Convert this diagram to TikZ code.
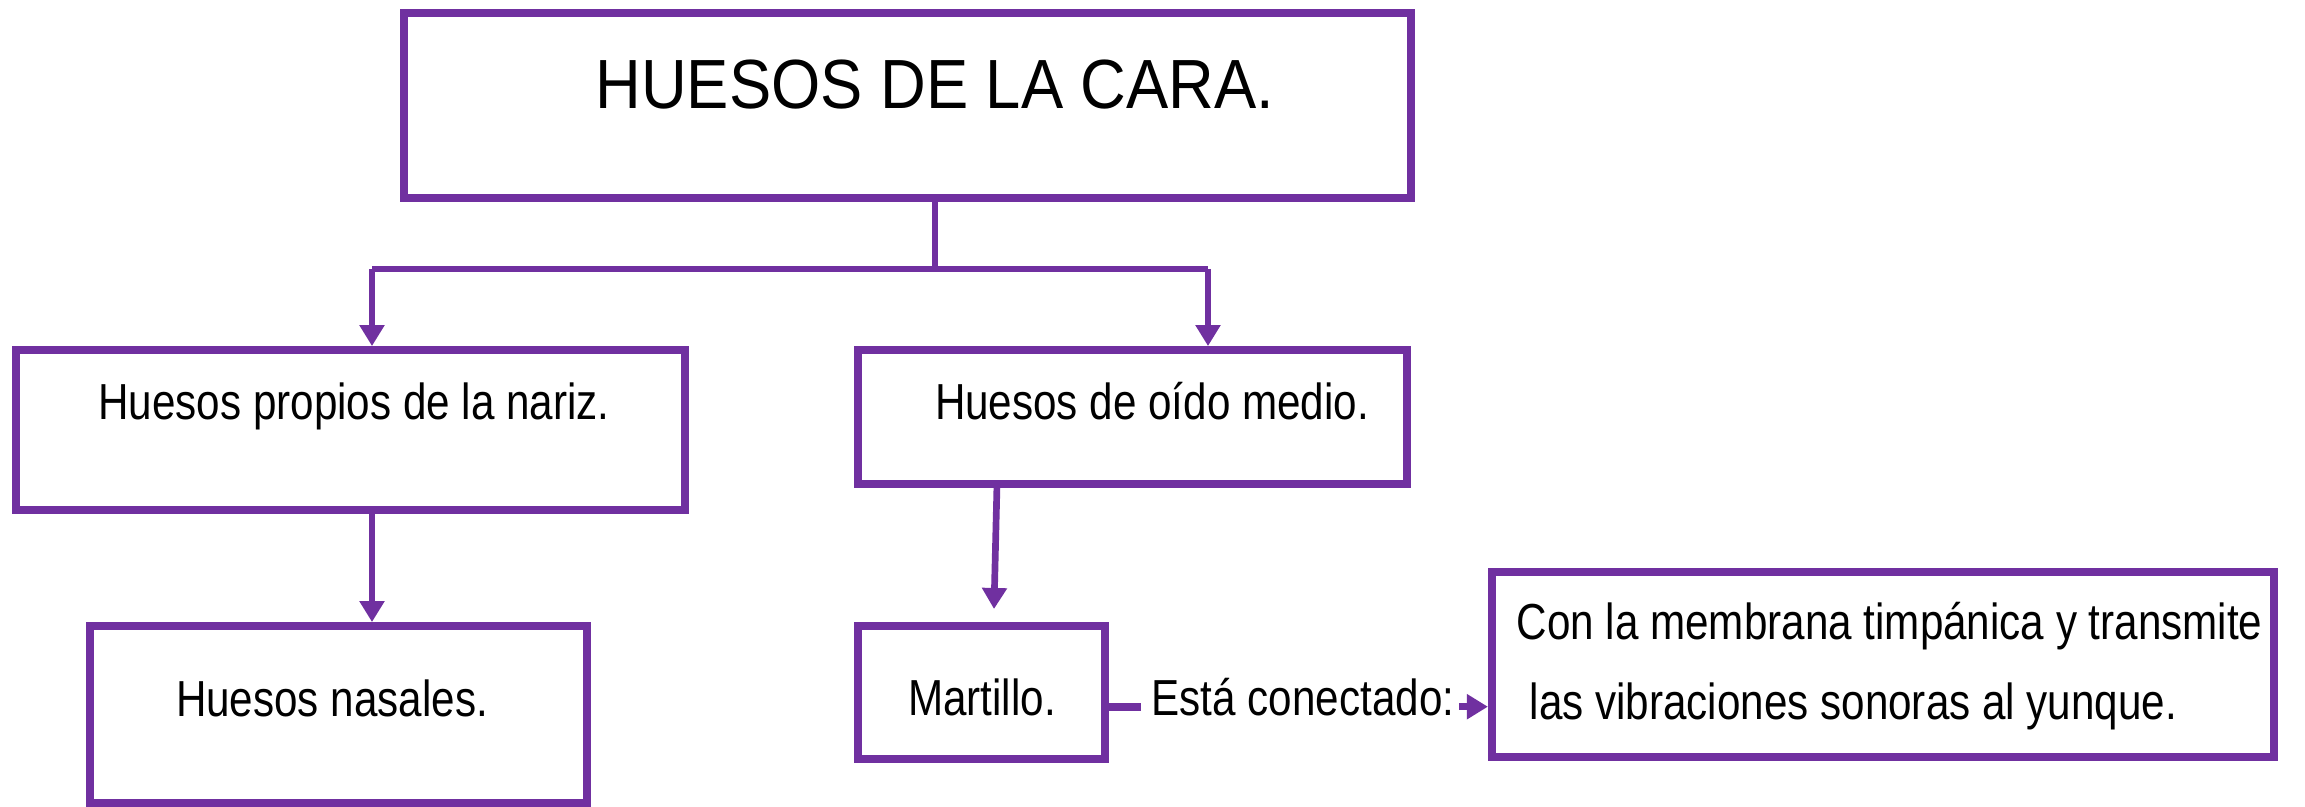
\documentclass[tikz,border=0pt]{standalone}
\usepackage{fontspec}
\setmainfont{Liberation Sans}
\usetikzlibrary{arrows.meta}
\definecolor{morado}{HTML}{7030A0}
\newcommand\alto[1]{\scalebox{1}[1.2]{#1}}
\tikzset{
  caja/.style={draw=morado, line width=2.2pt, rectangle, inner sep=0pt},
  texto/.style={anchor=base, inner sep=0pt, font=\fontsize{12}{14}\selectfont},
  flecha/.style={draw=morado, line width=1.9pt, -{Triangle[width=0.24cm,length=0.21cm]}},
  linea/.style={draw=morado, line width=1.9pt}
}
\begin{document}
\begin{tikzpicture}[x=0.01cm, y=-0.01cm]
      \useasboundingbox (0,0) rectangle (2305,807);
      \node[caja, minimum width=10.07cm, minimum height=1.85cm] (cara) at (907.5,105.5) {};
      \node[caja, minimum width=6.69cm, minimum height=1.60cm] (nariz) at (350.5,430) {};
      \node[caja, minimum width=4.97cm, minimum height=1.77cm] (nasales) at (338.5,714.5) {};
      \node[caja, minimum width=5.49cm, minimum height=1.34cm] (oido) at (1132.5,417) {};
      \node[caja, minimum width=2.47cm, minimum height=1.33cm] (martillo) at (981.5,692.5) {};
      \node[caja, minimum width=7.82cm, minimum height=1.85cm] (membrana) at (1883,664.5) {};
      \node[texto, font=\fontsize{18}{20}\selectfont] (caratxt) at (935,109) {\scalebox{1}[1.1]{HUESOS DE LA CARA.}};
      \node[texto] (narizxt) at (354,420) {\alto{Huesos propios de la nariz.}};
      \node[texto] (nasalestxt) at (332,717) {\alto{Huesos nasales.}};
      \node[texto] (oidotxt) at (1152,420) {\alto{Huesos de oído medio.}};
      \node[texto] (martillotxt) at (982,716) {\alto{Martillo.}};
      \node[texto, inner sep=0.1cm] (conectado) at (1303,716) {\alto{Está conectado:}};
      \node[texto, anchor=base west] (membrana1) at (1516,640) {\alto{Con la membrana timpánica y transmite}};
      \node[texto, anchor=base west] (membrana2) at (1529,720) {\alto{las vibraciones sonoras al yunque.}};
      \coordinate (split) at (935,269);
      \coordinate (lft) at (372,269);
      \coordinate (rgt) at (1208,269);
      \coordinate (o1) at (997,484);
      \coordinate (o2) at (994,609);
      \begin{scope}[linea]
        \draw[line width=1.7pt] (cara.south -| split) -- (split);
        \draw (lft) -- (rgt);
        \draw[line width=2.2pt] (martillo.east |- conectado.mid west) -- (conectado.mid west);
      \end{scope}
      \begin{scope}[flecha]
        \draw (lft) -- (lft |- nariz.north);
        \draw (rgt) -- (rgt |- oido.north);
        \draw (nariz.south -| lft) -- (nasales.north -| lft);
        \draw (o1) -- (o2);
        \draw ([xshift=-0.06cm]conectado.mid east) -- (membrana.west |- conectado.mid east);
      \end{scope}
    \end{tikzpicture}
\end{document}
